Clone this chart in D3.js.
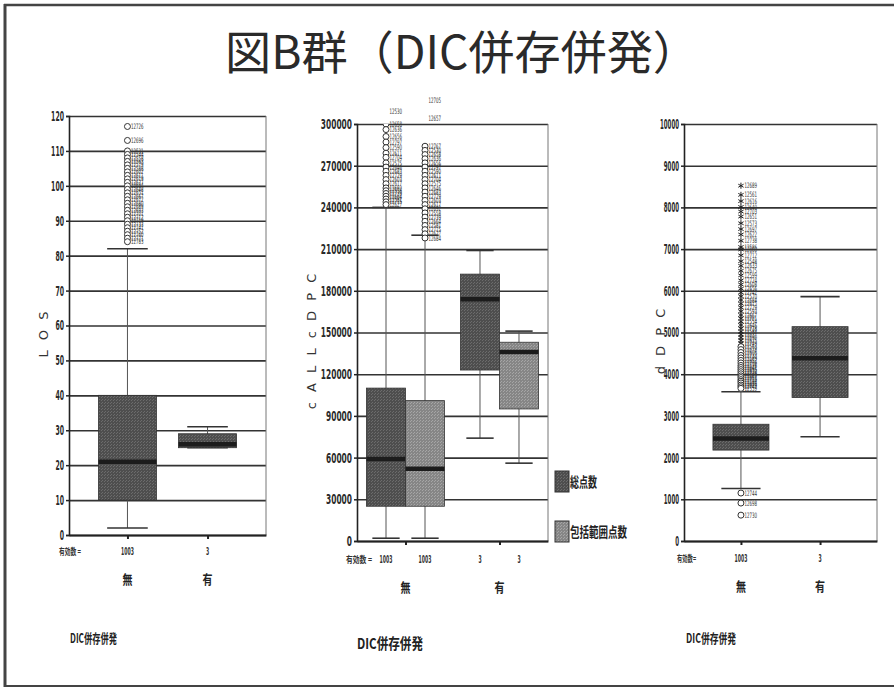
<!DOCTYPE html>
<html>
<head>
<meta charset="utf-8">
<script src="https://cdn.jsdelivr.net/npm/d3@7"></script>
<style>
  body { margin: 0; background: #fff; }
  svg { display: block; }
</style>
</head>
<body>
<svg id="chart" width="894" height="689"></svg>
<script>
// ---------------- data ----------------
const groups = ["無", "有"];
const validN = [1003, 3];

// LOS (days) by DIC comorbidity
const losTicks = [0, 10, 20, 30, 40, 50, 60, 70, 80, 90, 100, 110, 120];
const losLow = [2, 25];
const losQ1 = [10, 25];
const losMedian = [21, 26];
const losQ3 = [40, 29];
const losHigh = [82, 31];
const losOutliersNone = [
  [117, "12726"], [113, "12696"], [110, "12531"], [109, "12544"], [108, "12558"],
  [107, "12563"], [106, "12579"], [105, "12588"], [104, "12602"], [103, "12611"],
  [102, "12619"], [101, "12627"], [100, "12634"], [99, "12648"], [98, "12651"],
  [97, "12667"], [96, "12672"], [95, "12680"], [94, "12689"], [93, "12693"],
  [92, "12701"], [91, "12712"], [90, "12719"], [89, "12733"], [88, "12741"],
  [87, "12752"], [86, "12760"], [85, "12771"], [84, "12783"]
];

// cALL cDPC: total points vs. bundled-payment points
const pointSeries = ["総点数", "包括範囲点数"];
const pointTicks = [0, 30000, 60000, 90000, 120000, 150000, 180000, 210000, 240000, 270000, 300000];
const totalLow = [2000, 74000];
const totalQ1 = [25000, 123000];
const totalMedian = [59000, 174000];
const totalQ3 = [110000, 192000];
const totalHigh = [240000, 209000];
const inclLow = [2000, 56000];
const inclQ1 = [25000, 95000];
const inclMedian = [52000, 136000];
const inclQ3 = [101000, 143000];
const inclHigh = [220000, 151000];
const totalOutliersNone = [
  [309000, "12530"], [300000, "12658"], [296000, "12636"], [291000, "12656"], [287000, "12797"],
  [283000, "12590"], [279000, "12611"], [276000, "12704"], [272000, "12575"], [269000, "12646"],
  [266000, "12683"], [263000, "12729"], [260000, "12603"], [257000, "12617"], [254000, "12692"],
  [252000, "12558"], [250000, "12739"], [248000, "12664"], [246000, "12581"], [244000, "12715"],
  [242000, "12627"]
];
const inclOutliersNone = [
  [317000, "12705"], [304000, "12657"], [284000, "12767"], [281000, "12530"], [278000, "12658"],
  [275000, "12636"], [272000, "12656"], [269000, "12797"], [266000, "12590"], [263000, "12611"],
  [260000, "12704"], [257000, "12575"], [254000, "12646"], [251000, "12683"], [248000, "12729"],
  [245000, "12603"], [242000, "12617"], [239000, "12692"], [236000, "12558"], [233000, "12739"],
  [230000, "12664"], [227000, "12581"], [224000, "12715"], [221000, "12627"], [218000, "12684"]
];

// dDPC
const dpcTicks = [0, 1000, 2000, 3000, 4000, 5000, 6000, 7000, 8000, 9000, 10000];
const dpcLow = [1260, 2500];
const dpcQ1 = [2180, 3440];
const dpcMedian = [2460, 4380];
const dpcQ3 = [2800, 5140];
const dpcHigh = [3580, 5860];
const dpcOutliersNone = [
  [8520, "12689"], [8300, "12561"], [8150, "12616"], [8010, "12640"], [7900, "12703"],
  [7780, "12651"], [7620, "12573"], [7480, "12697"], [7350, "12622"], [7200, "12738"],
  [7050, "12586"], [6990, "12660"], [6850, "12712"], [6710, "12548"], [6600, "12633"],
  [6480, "12675"], [6370, "12599"], [6250, "12724"], [6150, "12608"], [6050, "12656"],
  [5960, "12742"], [5870, "12570"], [5780, "12684"], [5690, "12615"], [5600, "12729"],
  [5510, "12593"], [5420, "12667"], [5340, "12701"], [5260, "12554"], [5180, "12646"],
  [5100, "12718"], [5020, "12582"], [4950, "12637"], [4880, "12690"], [4810, "12625"],
  [4740, "12749"], [4660, "12563"], [4590, "12678"], [4520, "12606"], [4450, "12733"],
  [4390, "12589"], [4330, "12652"], [4270, "12709"], [4210, "12576"], [4160, "12641"],
  [4110, "12695"], [4060, "12620"], [4010, "12736"], [3960, "12567"], [3920, "12663"],
  [3870, "12715"], [3830, "12598"], [3790, "12681"], [3740, "12629"], [3700, "12747"],
  [3660, "12559"], [1150, "12744"], [910, "12698"], [620, "12730"]
];

// ---------------- drawing ----------------
const FONT_NARROW = "'Liberation Sans Narrow','DejaVu Sans Condensed','Liberation Sans',sans-serif";
const FONT_JP = "'Noto Sans CJK JP','Noto Sans CJK SC',sans-serif";
const svg = d3.select("#chart");
svg.append("rect").attr("width", 894).attr("height", 689).attr("fill", "#fff");

const defs = svg.append("defs");
function addPattern(id, base, dot) {
  const p = defs.append("pattern").attr("id", id)
    .attr("width", 3).attr("height", 3).attr("patternUnits", "userSpaceOnUse");
  p.append("rect").attr("width", 3).attr("height", 3).attr("fill", base);
  p.append("rect").attr("x", 0).attr("y", 0).attr("width", 1).attr("height", 1).attr("fill", dot);
  p.append("rect").attr("x", 2).attr("y", 1).attr("width", 1).attr("height", 1).attr("fill", dot);
}
addPattern("fillDark", "#4e4e4e", "#6c6c6c");
addPattern("fillLight", "#868686", "#a6a6a6");

// page frame
const frame = svg.append("g").attr("stroke", "#444").attr("fill", "none");
frame.append("line").attr("x1", 5).attr("x2", 5).attr("y1", 4).attr("y2", 687).attr("stroke-width", 3);
frame.append("line").attr("x1", 4).attr("x2", 894).attr("y1", 5).attr("y2", 5).attr("stroke-width", 2.5);
frame.append("line").attr("x1", 4).attr("x2", 894).attr("y1", 686).attr("y2", 686).attr("stroke-width", 2);

// title
svg.append("text")
  .attr("x", 225).attr("y", 69)
  .attr("font-family", FONT_JP).attr("font-size", 46).attr("fill", "#2a2a2a")
  .attr("textLength", 474).attr("lengthAdjust", "spacingAndGlyphs")
  .text("図B群（DIC併存併発）");

// condensed digits, as printed on the axes
function squeeze(sel, perChar) {
  sel.attr("textLength", function (d) { return this.textContent.length * perChar; })
    .attr("lengthAdjust", "spacingAndGlyphs");
}

let clipCount = 0;
function drawPanel(p) {
  const g = svg.append("g");
  const y = d3.scaleLinear().domain(p.domain).range([p.bottom, p.top]);
  const x = d3.scalePoint().domain(groups).range([p.left, p.right]).padding(p.pad);
  const clipId = "clip" + (clipCount++);
  defs.append("clipPath").attr("id", clipId).append("rect")
    .attr("x", p.left).attr("y", p.top).attr("width", p.right - p.left).attr("height", p.bottom - p.top);

  // horizontal gridlines
  g.append("g").attr("transform", `translate(${p.left},0)`)
    .call(d3.axisLeft(y).tickValues(p.ticks).tickSize(-(p.right - p.left)).tickFormat(""))
    .call(s => s.select(".domain").remove())
    .call(s => s.selectAll(".tick line").attr("stroke", "#333").attr("stroke-width", 1.6));

  // right border of plot
  g.append("line").attr("x1", p.right).attr("x2", p.right)
    .attr("y1", p.top).attr("y2", p.bottom).attr("stroke", "#777").attr("stroke-width", 1);

  const boxes = p.boxes(x);
  boxes.forEach(b => {
    const cx = b.x + b.w / 2;
    const capW = b.w * 0.7;
    // whisker stem
    g.append("line").attr("x1", cx).attr("x2", cx)
      .attr("y1", y(b.low)).attr("y2", y(b.high))
      .attr("stroke", "#555").attr("stroke-width", 1);
    // whisker caps
    [b.low, b.high].forEach(v => {
      g.append("line").attr("x1", cx - capW / 2).attr("x2", cx + capW / 2)
        .attr("y1", y(v)).attr("y2", y(v))
        .attr("stroke", "#333").attr("stroke-width", 1.6);
    });
    // box
    g.append("rect").attr("x", b.x).attr("width", b.w)
      .attr("y", y(b.q3)).attr("height", y(b.q1) - y(b.q3))
      .attr("fill", `url(#${b.fill})`).attr("stroke", "#333").attr("stroke-width", 0.8);
    // median
    g.append("line").attr("x1", b.x).attr("x2", b.x + b.w)
      .attr("y1", y(b.median)).attr("y2", y(b.median))
      .attr("stroke", "#1c1c1c").attr("stroke-width", 4.5);
    // outliers: circles beyond 1.5 IQR, asterisks beyond 3 IQR
    const iqr = b.q3 - b.q1;
    const og = g.append("g").attr("clip-path", `url(#${clipId})`);
    (b.outliers || []).forEach(([v]) => {
      const extreme = v > b.q3 + 3 * iqr || v < b.q1 - 3 * iqr;
      if (extreme) {
        og.append("path").attr("d", d3.symbol(d3.symbolAsterisk, 26)())
          .attr("transform", `translate(${cx},${y(v)})`)
          .attr("stroke", "#222").attr("stroke-width", 1).attr("fill", "none");
      } else {
        og.append("circle").attr("cx", cx).attr("cy", y(v)).attr("r", 3)
          .attr("fill", "#fff").attr("stroke", "#333").attr("stroke-width", 1);
      }
    });
    g.append("g").selectAll("text").data(b.outliers || []).join("text")
      .attr("x", cx + 3.5).attr("y", d => y(d[0]) + 2.6)
      .attr("font-family", FONT_NARROW).attr("font-size", 7.5).attr("fill", "#333")
      .text(d => d[1])
      .call(squeeze, 2.5);
  });

  // y axis
  g.append("g").attr("transform", `translate(${p.left},0)`)
    .call(d3.axisLeft(y).tickValues(p.ticks).tickSize(3).tickPadding(2).tickFormat(d3.format("d")))
    .call(s => s.select(".domain").attr("stroke", "#222").attr("stroke-width", 1.6))
    .call(s => s.selectAll(".tick line").attr("stroke", "#222").attr("stroke-width", 1.5))
    .call(s => s.selectAll(".tick text").attr("font-family", FONT_NARROW)
      .attr("font-size", p.tickFont).attr("font-weight", 700).attr("fill", "#2a2a2a").call(squeeze, p.digitW));

  // x axis
  g.append("g").attr("transform", `translate(0,${p.bottom})`)
    .call(d3.axisBottom(x).tickSize(4).tickSizeOuter(0).tickFormat(""))
    .call(s => s.select(".domain").attr("stroke", "#222").attr("stroke-width", 2))
    .call(s => s.selectAll(".tick line").attr("stroke", "#222").attr("stroke-width", 2));

  // valid-count row
  g.append("text").attr("x", p.countLabelX).attr("y", p.countY)
    .attr("font-family", FONT_JP).attr("font-size", 9).attr("font-weight", 700).attr("fill", "#333")
    .attr("textLength", p.countLabelW).attr("lengthAdjust", "spacingAndGlyphs")
    .text(p.countLabel);
  boxes.forEach(b => {
    g.append("text").attr("x", b.x + b.w / 2).attr("y", p.countY)
      .attr("text-anchor", "middle")
      .attr("font-family", FONT_NARROW).attr("font-size", 10).attr("font-weight", 700).attr("fill", "#333")
      .text(b.n)
      .call(squeeze, 3.2);
  });

  // group labels
  groups.forEach(k => {
    g.append("text").attr("x", x(k)).attr("y", p.groupY)
      .attr("text-anchor", "middle")
      .attr("font-family", FONT_JP).attr("font-size", 13).attr("font-weight", 700).attr("fill", "#222")
      .attr("textLength", 10).attr("lengthAdjust", "spacingAndGlyphs")
      .text(k);
  });

  // y-axis title
  g.append("text")
    .attr("transform", `translate(${p.yTitleX},${p.yTitleY}) rotate(-90)`)
    .attr("text-anchor", "middle")
    .attr("font-family", "'DejaVu Sans',sans-serif").attr("font-size", 13).attr("fill", "#333")
    .attr("letter-spacing", 3)
    .text(p.yTitle);

  // bottom caption
  g.append("text").attr("x", p.captionX).attr("y", p.captionY)
    .attr("font-family", FONT_JP).attr("font-size", p.captionSize).attr("font-weight", 700).attr("fill", "#222")
    .attr("textLength", p.captionW).attr("lengthAdjust", "spacingAndGlyphs")
    .text("DIC併存併発");
}

// LOS panel
drawPanel({
  left: 69, right: 266, top: 116, bottom: 535, pad: 0.73,
  domain: [0, 120], ticks: losTicks, tickFont: 14, digitW: 4.3,
  boxes: x => groups.map((k, i) => ({
    x: x(k) - 29, w: 58, fill: "fillDark", n: validN[i],
    low: losLow[i], q1: losQ1[i], median: losMedian[i], q3: losQ3[i], high: losHigh[i],
    outliers: i === 0 ? losOutliersNone : []
  })),
  countLabel: "有効数 =", countLabelX: 59, countLabelW: 22, countY: 555,
  groupY: 584, yTitle: "L O S", yTitleX: 48, yTitleY: 333,
  captionX: 70, captionY: 643, captionSize: 13, captionW: 47
});

// cALL cDPC panel with two series per group
const seriesX = d3.scaleBand().domain(pointSeries).range([-39, 39]);
drawPanel({
  left: 357, right: 548, top: 124, bottom: 541, pad: 0.516,
  domain: [0, 300000], ticks: pointTicks, tickFont: 14, digitW: 5.2,
  boxes: x => groups.flatMap((k, i) => [
    { x: x(k) + seriesX("総点数"), w: seriesX.bandwidth(), fill: "fillDark", n: validN[i],
      low: totalLow[i], q1: totalQ1[i], median: totalMedian[i], q3: totalQ3[i], high: totalHigh[i],
      outliers: i === 0 ? totalOutliersNone : [] },
    { x: x(k) + seriesX("包括範囲点数"), w: seriesX.bandwidth(), fill: "fillLight", n: validN[i],
      low: inclLow[i], q1: inclQ1[i], median: inclMedian[i], q3: inclQ3[i], high: inclHigh[i],
      outliers: i === 0 ? inclOutliersNone : [] }
  ]),
  countLabel: "有効数 =", countLabelX: 346, countLabelW: 26, countY: 563,
  groupY: 592, yTitle: "c A L L c D P C", yTitleX: 316, yTitleY: 340,
  captionX: 357, captionY: 649, captionSize: 15, captionW: 66
});

// legend for the cDPC panel
const legend = svg.append("g");
pointSeries.forEach((s, i) => {
  const ly = [471, 521][i];
  legend.append("rect").attr("x", 555).attr("y", ly).attr("width", 14).attr("height", 21)
    .attr("fill", `url(#${i === 0 ? "fillDark" : "fillLight"})`).attr("stroke", "#333").attr("stroke-width", 1);
  legend.append("text").attr("x", 570).attr("y", ly + 16)
    .attr("font-family", FONT_JP).attr("font-size", 14).attr("font-weight", 700).attr("fill", "#222")
    .attr("textLength", i === 0 ? 27 : 57).attr("lengthAdjust", "spacingAndGlyphs")
    .text(s);
});

// dDPC panel
drawPanel({
  left: 684, right: 877, top: 124, bottom: 541, pad: 0.72,
  domain: [0, 10000], ticks: dpcTicks, tickFont: 14, digitW: 3.8,
  boxes: x => groups.map((k, i) => ({
    x: x(k) - 28, w: 56, fill: "fillDark", n: validN[i],
    low: dpcLow[i], q1: dpcQ1[i], median: dpcMedian[i], q3: dpcQ3[i], high: dpcHigh[i],
    outliers: i === 0 ? dpcOutliersNone : []
  })),
  countLabel: "有効数=", countLabelX: 677, countLabelW: 19, countY: 562,
  groupY: 591, yTitle: "d D P C", yTitleX: 665, yTitleY: 340,
  captionX: 686, captionY: 643, captionSize: 13, captionW: 50
});
</script>
</body>
</html>
